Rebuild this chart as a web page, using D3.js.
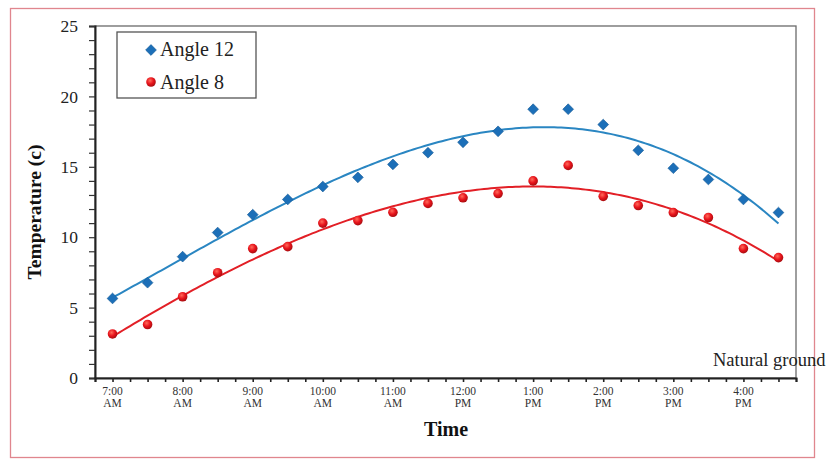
<!DOCTYPE html>
<html>
<head>
<meta charset="utf-8">
<script src="https://cdn.jsdelivr.net/npm/d3@7"></script>
<style>
  body { margin: 0; background: #fff; }
  svg text { font-family: "Liberation Serif", "Times New Roman", serif; }
</style>
</head>
<body>
<script>
// half-hour readings, 7:00 AM .. 4:30 PM (hours of day)
var hours = [7, 7.5, 8, 8.5, 9, 9.5, 10, 10.5, 11, 11.5, 12, 12.5, 13, 13.5, 14, 14.5, 15, 15.5, 16, 16.5];
var angle12 = [5.65, 6.77, 8.62, 10.33, 11.6, 12.68, 13.6, 14.25, 15.17, 16.0, 16.74, 17.52, 19.09, 19.09, 18.0, 16.17, 14.9, 14.1, 12.68, 11.75];
var angle8 = [3.13, 3.8, 5.77, 7.48, 9.19, 9.33, 11.0, 11.18, 11.77, 12.4, 12.8, 13.1, 14.0, 15.1, 12.9, 12.25, 11.75, 11.4, 9.19, 8.55];
var tickHours = [7, 8, 9, 10, 11, 12, 13, 14, 15, 16];
var tickLabels = [["7:00", "AM"], ["8:00", "AM"], ["9:00", "AM"], ["10:00", "AM"], ["11:00", "AM"],
                  ["12:00", "PM"], ["1:00", "PM"], ["2:00", "PM"], ["3:00", "PM"], ["4:00", "PM"]];

var W = 828, H = 459;
var pLeft = 95, pRight = 796, pTop = 26, pBottom = 378;

var svg = d3.select("body").append("svg")
  .attr("width", W).attr("height", H);

// outer frame
svg.append("rect")
  .attr("x", 10.5).attr("y", 8.5)
  .attr("width", 804).attr("height", 449)
  .attr("fill", "none")
  .attr("stroke", "#e0868e")
  .attr("stroke-width", 1.3);

var x = d3.scaleLinear().domain([6.75, 16.75]).range([pLeft, pRight]);
var y = d3.scaleLinear().domain([0, 25]).range([pBottom, pTop]);

// plot box
svg.append("rect")
  .attr("x", pLeft).attr("y", pTop)
  .attr("width", pRight - pLeft).attr("height", pBottom - pTop)
  .attr("fill", "none")
  .attr("stroke", "#6a6a6a")
  .attr("stroke-width", 1.3);

// y axis
var yAxis = d3.axisLeft(y).tickValues(d3.range(0, 26, 1)).tickSize(6)
  .tickFormat(function(d) { return d % 5 === 0 ? d : ""; });
var gy = svg.append("g").attr("transform", "translate(" + pLeft + ",0)").call(yAxis);
gy.select(".domain").attr("stroke", "#222").attr("stroke-width", 2);
gy.selectAll(".tick line").attr("stroke", "#333").attr("stroke-width", 1.2);
gy.selectAll(".tick text").attr("x", -17).attr("font-size", 17.5).attr("fill", "#222");

// x axis
var xAxis = d3.axisBottom(x).tickValues(d3.range(6.75, 16.76, 0.25)).tickSize(4).tickFormat("");
var gx = svg.append("g").attr("transform", "translate(0," + pBottom + ")").call(xAxis);
gx.select(".domain").attr("stroke", "#222").attr("stroke-width", 2);
gx.selectAll(".tick line").attr("stroke", "#222").attr("stroke-width", 1.6);

var xl = svg.append("g").selectAll("text").data(tickHours).enter().append("text")
  .attr("x", function(d) { return x(d); })
  .attr("y", pBottom + 17)
  .attr("text-anchor", "middle")
  .attr("font-size", 11.5)
  .attr("fill", "#333");
xl.append("tspan").attr("x", function(d) { return x(d); })
  .text(function(d, i) { return tickLabels[i][0]; });
xl.append("tspan").attr("x", function(d) { return x(d); }).attr("dy", 12)
  .text(function(d, i) { return tickLabels[i][1]; });

// least squares polynomial trend (order 3)
function polyFit(xs, ys, order) {
  var n = order + 1, A = [], b = [];
  for (var r = 0; r < n; r++) {
    A.push([]);
    for (var c = 0; c < n; c++) A[r].push(d3.sum(xs, function(v) { return Math.pow(v, r + c); }));
    b.push(d3.sum(xs, function(v, i) { return ys[i] * Math.pow(v, r); }));
  }
  for (var i = 0; i < n; i++) {
    var p = i;
    for (var k = i + 1; k < n; k++) if (Math.abs(A[k][i]) > Math.abs(A[p][i])) p = k;
    var t = A[i]; A[i] = A[p]; A[p] = t; t = b[i]; b[i] = b[p]; b[p] = t;
    for (var k2 = i + 1; k2 < n; k2++) {
      var f = A[k2][i] / A[i][i];
      for (var c2 = i; c2 < n; c2++) A[k2][c2] -= f * A[i][c2];
      b[k2] -= f * b[i];
    }
  }
  var coef = new Array(n);
  for (var i2 = n - 1; i2 >= 0; i2--) {
    var s = b[i2];
    for (var j = i2 + 1; j < n; j++) s -= A[i2][j] * coef[j];
    coef[i2] = s / A[i2][i2];
  }
  return function(v) { return d3.sum(coef, function(cf, k) { return cf * Math.pow(v, k); }); };
}

var t0 = hours.map(function(h) { return h - 7; });
var line = d3.line().x(function(d) { return x(d[0]); }).y(function(d) { return y(d[1]); });
var samples = d3.range(7, 16.501, 0.05);

function trend(vals, color) {
  var f = polyFit(t0, vals, 3);
  svg.append("path")
    .datum(samples.map(function(h) { return [h, f(h - 7)]; }))
    .attr("d", line)
    .attr("fill", "none")
    .attr("stroke", color)
    .attr("stroke-width", 2);
}
trend(angle12, "#2a86c2");
trend(angle8, "#e21f26");

// markers
var defs = svg.append("defs");
var rg = defs.append("radialGradient").attr("id", "redball").attr("cx", "40%").attr("cy", "35%").attr("r", "65%");
rg.append("stop").attr("offset", "0%").attr("stop-color", "#ff6a5a");
rg.append("stop").attr("offset", "55%").attr("stop-color", "#e8141c");
rg.append("stop").attr("offset", "100%").attr("stop-color", "#a80d10");

var diamond = d3.symbol().type(d3.symbolSquare).size(58);

svg.append("g").selectAll("path").data(angle12).enter().append("path")
  .attr("d", diamond)
  .attr("transform", function(d, i) { return "translate(" + x(hours[i]) + "," + y(d) + ") rotate(45)"; })
  .attr("fill", "#1c6fb8")
  .attr("stroke", "#155a96")
  .attr("stroke-width", 0.6);

svg.append("g").selectAll("circle").data(angle8).enter().append("circle")
  .attr("cx", function(d, i) { return x(hours[i]); })
  .attr("cy", function(d) { return y(d); })
  .attr("r", 4.8)
  .attr("fill", "url(#redball)");

// legend
svg.append("rect")
  .attr("x", 117).attr("y", 32).attr("width", 139).attr("height", 66)
  .attr("fill", "#fff").attr("stroke", "#555").attr("stroke-width", 1.3);
svg.append("path").attr("d", diamond)
  .attr("transform", "translate(151,50) rotate(45)")
  .attr("fill", "#1c6fb8").attr("stroke", "#155a96").attr("stroke-width", 0.6);
svg.append("circle").attr("cx", 151).attr("cy", 82).attr("r", 4.8).attr("fill", "url(#redball)");
svg.append("text").attr("x", 160).attr("y", 56).attr("font-size", 20).attr("fill", "#222").text("Angle 12");
svg.append("text").attr("x", 160).attr("y", 89).attr("font-size", 20).attr("fill", "#222").text("Angle 8");

// annotation and titles
svg.append("text").attr("x", 713).attr("y", 366).attr("font-size", 18.5).attr("fill", "#222").text("Natural ground");

svg.append("text").attr("x", 446).attr("y", 436).attr("text-anchor", "middle")
  .attr("font-size", 20).attr("font-weight", "bold").attr("fill", "#111").text("Time");

svg.append("text")
  .attr("transform", "translate(41,212) rotate(-90)")
  .attr("text-anchor", "middle")
  .attr("font-size", 19.5).attr("font-weight", "bold").attr("fill", "#111")
  .text("Temperature (c)");
</script>
</body>
</html>
